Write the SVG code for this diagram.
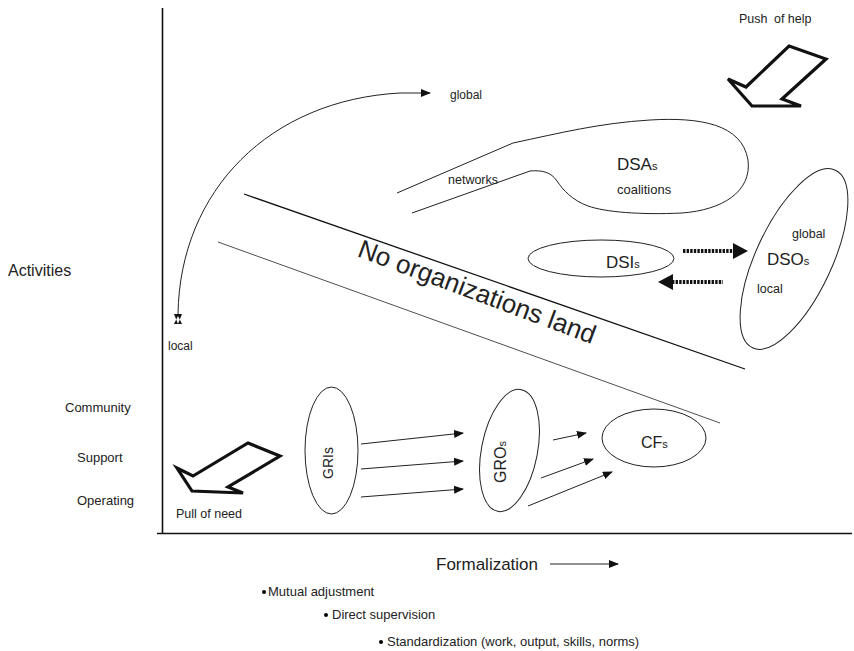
<svg xmlns="http://www.w3.org/2000/svg" width="854" height="651" viewBox="0 0 854 651">
<defs>
<style>
text{font-family:"Liberation Sans",Arial,sans-serif;fill:#222}
.s{font-size:12.5px}
.b{font-size:13px}
.m{font-size:16px}
.ln{fill:none;stroke:#222;stroke-width:1}
.bold{fill:none;stroke:#111;stroke-width:3.2;stroke-linejoin:miter}
.dot{fill:none;stroke:#111;stroke-width:4;stroke-dasharray:2.4 1.2}
</style>
<marker id="ah" markerWidth="10" markerHeight="8" refX="9" refY="4" orient="auto" markerUnits="userSpaceOnUse">
<path d="M0,0 L10,4 L0,8 Z" fill="#111"/>
</marker>
</defs>
<rect width="854" height="651" fill="#fff"/>

<g id="axes">
<line x1="162.5" y1="8" x2="162.5" y2="534" stroke="#111" stroke-width="1.6"/>
<line x1="157" y1="533.5" x2="852" y2="533.5" stroke="#111" stroke-width="1.6"/>
</g>

<g id="labels">
<text x="8" y="276" class="m">Activities</text>
<text x="65" y="412" style="font-size:13px">Community</text>
<text x="77" y="462" style="font-size:13px">Support</text>
<text x="77" y="505" style="font-size:13px">Operating</text>
<text x="436" y="570" style="font-size:17px">Formalization</text>
<circle cx="264" cy="592" r="2"/>
<text x="268" y="596" class="b">Mutual adjustment</text>
<circle cx="326" cy="615" r="2"/>
<text x="332" y="619" class="b">Direct supervision</text>
<circle cx="381" cy="642" r="2"/>
<text x="387" y="646" class="b">Standardization (work, output, skills, norms)</text>
</g>

<g id="push-of-help">
<text x="739" y="23" class="s">Push <tspan dx="3">of help</tspan></text>
<polygon class="bold" points="789,46 826,59 782,99 801,106 752,106 728,79 746,87"/>
</g>

<g id="pull-of-need">
<polygon class="bold" points="248,443 280,456 228,487 243,493 192,491 177,468 193,476"/>
<text x="176" y="518" class="s">Pull of need</text>
</g>

<g id="scope">
<text x="450" y="99" style="font-size:12px">global</text>
<text x="168" y="350" style="font-size:12px">local</text>
</g>

<g id="no-organizations-land">
<line x1="244" y1="194" x2="745" y2="369" stroke="#111" stroke-width="1.3"/>
<line x1="218" y1="242" x2="720" y2="423" stroke="#222" stroke-width="0.8"/>
<text transform="translate(474,300) rotate(20.5)" text-anchor="middle" style="font-size:26px">No organizations land</text>
</g>

<g id="DSAs">
<path class="ln" d="M397,193 L513,143 C560,133 600,123 650,120 C700,117 742,124 748,160 C752,192 722,210 682,213 C640,215 605,212 588,206 C572,200 563,190 557,181 C551,172 542,170 530,171 L412,213"/>
<text x="448" y="184" class="s">networks</text>
<text x="617" y="170" style="font-size:17px">DSA<tspan style="font-size:11px">s</tspan></text>
<text x="617" y="194" style="font-size:13px">coalitions</text>
</g>

<g id="DSIs">
<ellipse class="ln" cx="601" cy="258.5" rx="73" ry="18.5"/>
<text x="606" y="268" style="font-size:17px">DSI<tspan style="font-size:11px">s</tspan></text>
</g>

<g id="DSOs">
<ellipse class="ln" cx="794" cy="259" rx="38" ry="98" transform="rotate(25 794 259)"/>
<text x="792" y="238" style="font-size:12.5px">global</text>
<text x="767" y="265" style="font-size:17px">DSO<tspan style="font-size:11px">s</tspan></text>
<text x="757" y="293" style="font-size:12.5px">local</text>
</g>

<g id="GRIs">
<ellipse class="ln" cx="331.5" cy="450.5" rx="26.5" ry="63.5"/>
<text transform="translate(333,463) rotate(-90)" text-anchor="middle" style="font-size:14px">GRIs</text>
</g>

<g id="GROs">
<ellipse class="ln" cx="509.5" cy="450.5" rx="28" ry="62" transform="rotate(11 509.5 450.5)"/>
<text transform="translate(506,462) rotate(-90)" text-anchor="middle" style="font-size:16px">GRO<tspan style="font-size:11px">s</tspan></text>
</g>

<g id="CFs">
<ellipse class="ln" cx="654" cy="438" rx="52" ry="29"/>
<text x="641" y="448" style="font-size:16px">CF<tspan style="font-size:11px">s</tspan></text>
</g>

<g id="connectors">
<path class="ln" d="M178,314 C180,190 270,100 400,93 L430,93" marker-end="url(#ah)"/>
<path d="M174,314 L182,314 L178,324 Z M174,324 L182,324 L178,316 Z" fill="#111"/>
<line class="ln" x1="361" y1="444" x2="463" y2="433" marker-end="url(#ah)"/>
<line class="ln" x1="361" y1="469" x2="463" y2="461" marker-end="url(#ah)"/>
<line class="ln" x1="361" y1="497" x2="463" y2="489" marker-end="url(#ah)"/>
<line class="ln" x1="553" y1="440" x2="586" y2="433" marker-end="url(#ah)"/>
<line class="ln" x1="541" y1="478" x2="593" y2="459" marker-end="url(#ah)"/>
<line class="ln" x1="528" y1="506" x2="612" y2="472" marker-end="url(#ah)"/>
<line class="ln" x1="550" y1="564" x2="618" y2="564" marker-end="url(#ah)"/>
<line class="dot" x1="683" y1="251" x2="734" y2="251"/>
<polygon points="733,243 748,251 733,259" fill="#111"/>
<line class="dot" x1="672" y1="282" x2="723" y2="282"/>
<polygon points="673,274 658,282 673,290" fill="#111"/>
</g>
</svg>
